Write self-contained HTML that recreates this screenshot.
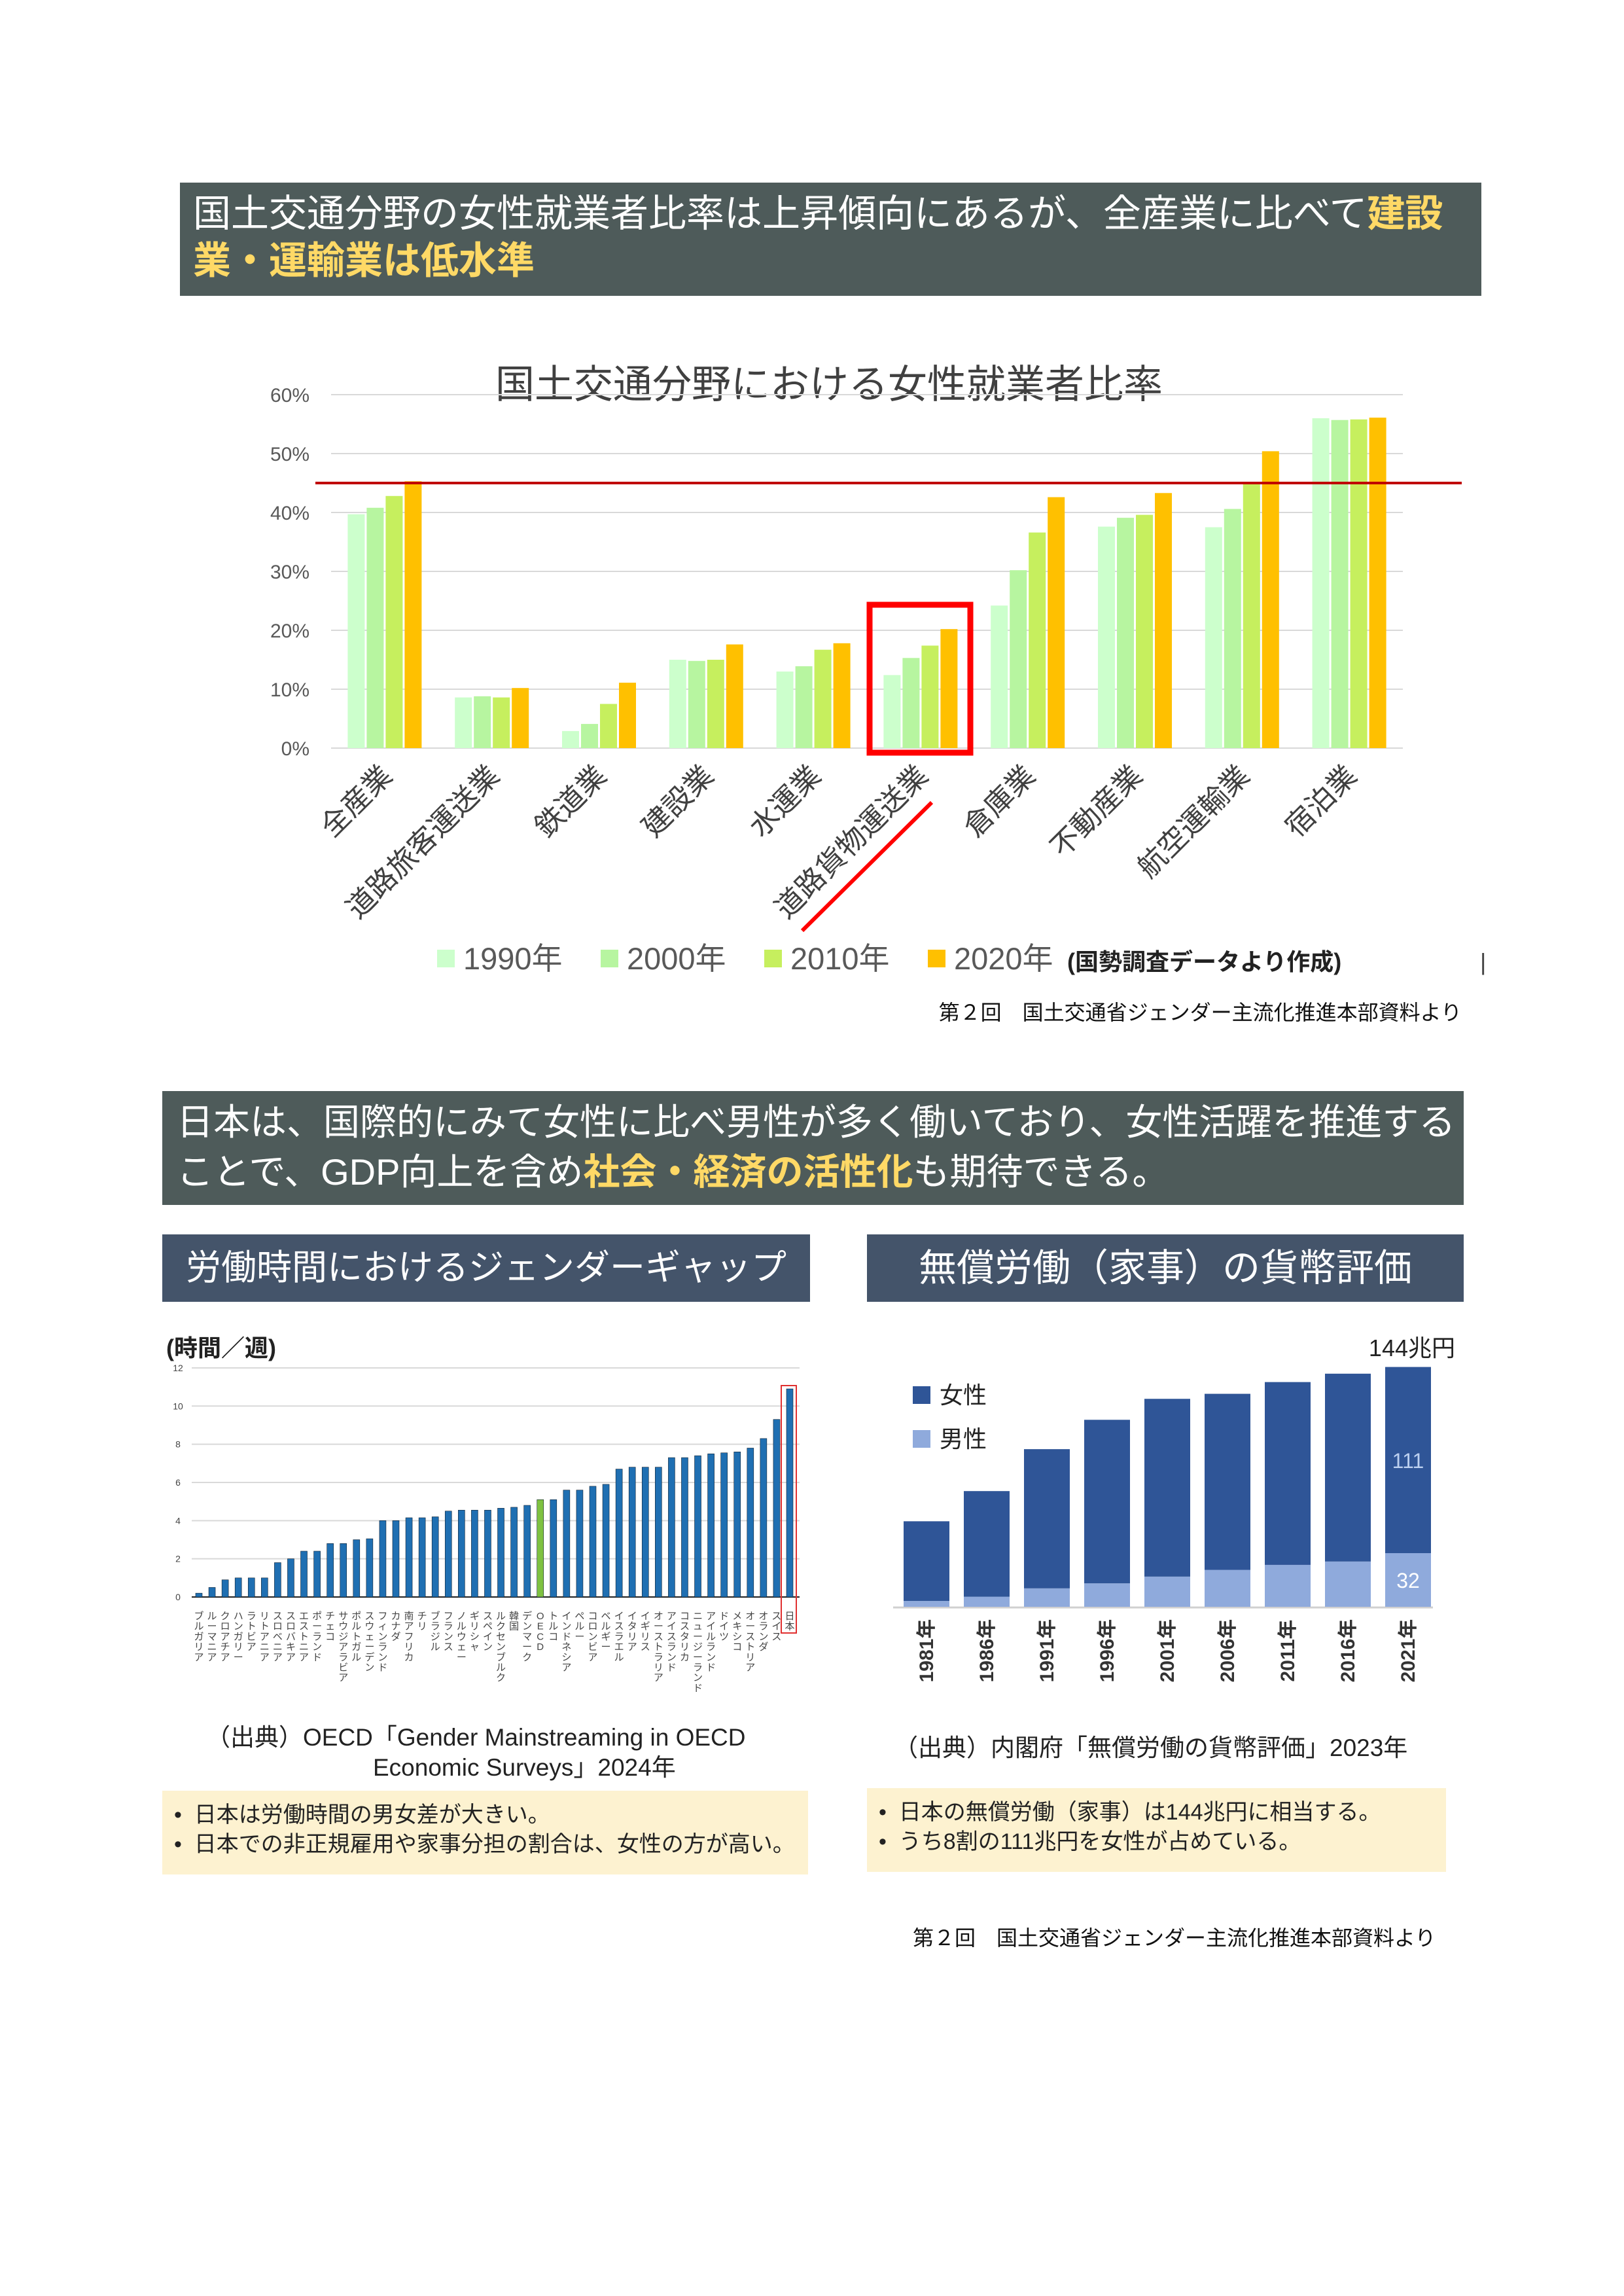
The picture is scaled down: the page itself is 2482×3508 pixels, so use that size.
<!DOCTYPE html>
<html><head><meta charset="utf-8">
<style>
body{margin:0;width:2482px;height:3508px;background:#fff;position:relative;overflow:hidden;font-family:"Liberation Sans","Noto Sans CJK JP",sans-serif;}
.abs{position:absolute;}
.hdr{background:#4e5b5a;color:#fff;box-sizing:border-box;}
.hl{color:#ffd966;font-weight:bold;}
.sub{background:#44546a;color:#fff;text-align:center;box-sizing:border-box;}
.note{background:#fdf2d0;color:#222;box-sizing:border-box;font-size:34px;line-height:45px;white-space:nowrap;}
svg text{font-family:"Liberation Sans","Noto Sans CJK JP",sans-serif;}
</style></head><body>

<div class="abs hdr" style="left:275px;top:279px;width:1989px;height:173px;padding:12px 0 0 20px;font-size:58px;line-height:72px;letter-spacing:0px;white-space:nowrap;">国土交通分野の女性就業者比率は上昇傾向にあるが、全産業に比べて<span class="hl">建設</span><br><span class="hl">業・運輸業は低水準</span></div>

<svg class="abs" style="left:0;top:0" width="2482" height="1600">
<text x="1267" y="608" text-anchor="middle" font-size="60" fill="#404040">国土交通分野における女性就業者比率</text>
<g id="c1"></g>
<line x1="482" y1="738" x2="2234" y2="738" stroke="#c00000" stroke-width="4"/>
<rect x="1329" y="924" width="154" height="226" fill="none" stroke="#ff0000" stroke-width="9"/>
<line x1="1226" y1="1422" x2="1424" y2="1226" stroke="#ff0000" stroke-width="6"/>
<g id="leg1"></g>
<text x="1631" y="1482" font-size="36" font-weight="bold" fill="#222">(国勢調査データより作成)</text>
<text x="2262" y="1482" font-size="36" fill="#444">|</text>
<text x="2234" y="1558" text-anchor="end" font-size="32" fill="#111">第２回　国土交通省ジェンダー主流化推進本部資料より</text>
</svg>

<div class="abs hdr" style="left:248px;top:1667px;width:1989px;height:174px;padding:10px 0 0 22px;font-size:56px;line-height:76px;white-space:nowrap;">日本は、国際的にみて女性に比べ男性が多く働いており、女性活躍を推進する<br>ことで、GDP向上を含め<span class="hl">社会・経済の活性化</span>も期待できる。</div>

<div class="abs sub" style="left:248px;top:1886px;width:990px;height:103px;font-size:54px;line-height:103px;">労働時間におけるジェンダーギャップ</div>
<div class="abs sub" style="left:1325px;top:1886px;width:912px;height:103px;font-size:58px;line-height:103px;">無償労働（家事）の貨幣評価</div>

<svg class="abs" style="left:0;top:2000px" width="2482" height="750">
<g transform="translate(0,-2000)">
<text x="254" y="2072" font-size="36" font-weight="bold" fill="#222">(時間／週)</text>
<g id="c2"></g>
<text x="2224" y="2072" text-anchor="end" font-size="36" fill="#222">144兆円</text>
<rect x="1395" y="2118" width="27" height="27" fill="#2f5597"/>
<text x="1436" y="2144" font-size="36" fill="#222">女性</text>
<rect x="1395" y="2185" width="27" height="27" fill="#8faadc"/>
<text x="1436" y="2211" font-size="36" fill="#222">男性</text>
<g id="c3"></g>
</g>
</svg>

<div class="abs" style="left:315px;top:2632px;font-size:37px;line-height:46px;color:#222;white-space:nowrap;">（出典）OECD「Gender Mainstreaming in OECD<br><span style="padding-left:255px">Economic Surveys」2024年</span></div>
<div class="abs" style="left:1366px;top:2648px;font-size:37px;line-height:46px;color:#222;white-space:nowrap;">（出典）内閣府「無償労働の貨幣評価」2023年</div>

<div class="abs note" style="left:248px;top:2736px;width:987px;height:128px;padding:15px 0 0 18px;">•&nbsp; 日本は労働時間の男女差が大きい。<br>•&nbsp; 日本での非正規雇用や家事分担の割合は、女性の方が高い。</div>
<div class="abs note" style="left:1325px;top:2732px;width:885px;height:128px;padding:15px 0 0 18px;">•&nbsp; 日本の無償労働（家事）は144兆円に相当する。<br>•&nbsp; うち8割の111兆円を女性が占めている。</div>

<div class="abs" style="left:1395px;top:2936px;font-size:32px;color:#111;white-space:nowrap;">第２回　国土交通省ジェンダー主流化推進本部資料より</div>

<script>
const NS="http://www.w3.org/2000/svg";
function mk(p,tag,a,txt){const e=document.createElementNS(NS,tag);for(const k in a)e.setAttribute(k,a[k]);if(txt!=null)e.textContent=txt;p.appendChild(e);return e;}

// ---- Chart 1 data ----
const industries=["全産業","道路旅客運送業","鉄道業","建設業","水運業","道路貨物運送業","倉庫業","不動産業","航空運輸業","宿泊業"];
const years1=["1990年","2000年","2010年","2020年"];
const v1990=[39.7,8.6,2.9,15.0,13.0,12.4,24.2,37.6,37.5,56.0];
const v2000=[40.8,8.8,4.1,14.8,13.9,15.3,30.2,39.1,40.6,55.7];
const v2010=[42.8,8.6,7.5,15.0,16.7,17.4,36.6,39.6,44.8,55.8];
const v2020=[45.3,10.2,11.1,17.6,17.8,20.2,42.6,43.3,50.4,56.1];
const pctTicks=[0,10,20,30,40,50,60];

// ---- Chart 2 data ----
const countries=["ブルガリア","ルーマニア","クロアチア","ハンガリー","ラトビア","リトアニア","スロベニア","スロバキア","エストニア","ポーランド","チェコ","サウジアラビア","ポルトガル","スウェーデン","フィンランド","カナダ","南アフリカ","チリ","ブラジル","フランス","ノルウェー","ギリシャ","スペイン","ルクセンブルク","韓国","デンマーク","OECD","トルコ","インドネシア","ペルー","コロンビア","ベルギー","イスラエル","イタリア","イギリス","オーストラリア","アイスランド","コスタリカ","ニュージーランド","アイルランド","ドイツ","メキシコ","オーストリア","オランダ","スイス","日本"];
const gapHours=[0.2,0.5,0.9,1.0,1.0,1.0,1.8,2.0,2.4,2.4,2.8,2.8,3.0,3.05,4.0,4.0,4.15,4.15,4.2,4.5,4.55,4.55,4.55,4.65,4.7,4.8,5.1,5.1,5.6,5.6,5.8,5.9,6.7,6.8,6.8,6.8,7.3,7.3,7.4,7.5,7.55,7.6,7.8,8.3,9.3,10.9];
const hourTicks=[0,2,4,6,8,10,12];

// ---- Chart 3 data ----
const years3=["1981年","1986年","1991年","1996年","2001年","2006年","2011年","2016年","2021年"];
const female=[47.5,63,83,97.5,106,105,109,112,111];
const male=[3.5,6,11,14,18,22,25,27,32];

// ---- Chart 1 drawing ----
(function(){
 const g=document.getElementById('c1');
 const x0=506,x1=2144,yb=1143,pxPer=9.0;
 const y=v=>yb-v*pxPer;
 const gw=(x1-x0)/industries.length;
 pctTicks.forEach(t=>{
  const l=mk(g,'line',{x1:x0,x2:x1,y1:y(t),y2:y(t),stroke:'#d9d9d9','stroke-width':2});
  
  
  const tx=mk(g,'text',{x:473,y:y(t)+11,'text-anchor':'end','font-size':30,fill:'#595959'},t+'%');
  
  
 });
 const series=[v1990,v2000,v2010,v2020];
 const cols=['#ccffcc','#b7f5a0','#c6ef5e','#ffc000'];
 const bw=26,gap=3;
 industries.forEach((name,i)=>{
  const cx=x0+gw*(i+0.5);
  const start=cx-(4*bw+3*gap)/2;
  series.forEach((s,j)=>{
   const r=mk(g,'rect',{x:start+j*(bw+gap),y:y(s[i]),width:bw,height:s[i]*pxPer,fill:cols[j]});
   
   
  });
  const t=mk(g,'text',{x:0,y:0,'text-anchor':'end','font-size':44,fill:'#404040',transform:`translate(${cx+14},${1188}) rotate(-45)`},name);
  
  
 });
 const lg=document.getElementById('leg1');
 const lx=[668,918,1168,1418];
 years1.forEach((yr,j)=>{
  const r=mk(lg,'rect',{x:lx[j],y:1451,width:27,height:27,fill:cols[j]});
  
  
  const t=mk(lg,'text',{x:lx[j]+40,y:1481,'font-size':47,fill:'#595959'},yr);
  
  
 });
})();

// ---- Chart 2 drawing ----
(function(){
 const g=document.getElementById('c2');
 const gx0=293,gx1=1222,yb=2440,pxPer=29.17;
 const y=v=>yb-v*pxPer;
 hourTicks.forEach(t=>{
  if(t>0){const l=mk(g,'line',{x1:gx0,x2:gx1,y1:y(t),y2:y(t),stroke:'#d9d9d9','stroke-width':2});
  
  }
  const tx=mk(g,'text',{x:272,y:y(t)+5,'text-anchor':'middle','font-size':14,fill:'#444'},t);
  
  
 });
 const ax=mk(g,'line',{x1:gx0,x2:gx1,y1:yb,y2:yb,stroke:'#222','stroke-width':2});
 
 
 const pitch=(1207-304)/(countries.length-1);
 countries.forEach((c,i)=>{
  const cx=304+i*pitch;
  const r=mk(g,'rect',{x:cx-5,y:y(gapHours[i]),width:10,height:gapHours[i]*pxPer,fill:c==='OECD'?'#7fc241':'#1f6fb2',stroke:'#123',"stroke-width":0.6});
  
  
  [...c].forEach((ch,k)=>{
   const t=mk(g,'text',{x:cx,y:2474+k*15.7,'text-anchor':'middle','font-size':15,fill:'#444'},ch);
   
   
  });
 });
 const jb=mk(g,'rect',{x:1194,y:2117,width:23,height:378,fill:'none',stroke:'#e03030','stroke-width':2});
 
 
})();

// ---- Chart 3 drawing ----
(function(){
 const g=document.getElementById('c3');
 const yb=2455,pxPer=2.5625,x0=1381,pitch=92,bw=70;
 const y=v=>yb-v*pxPer;
 const bl=mk(g,'line',{x1:1365,x2:2190,y1:yb+1,y2:yb+1,stroke:'#d0d0d0','stroke-width':3});
 
 
 years3.forEach((yr,i)=>{
  const x=x0+i*pitch;
  const rm=mk(g,'rect',{x:x,y:y(male[i]),width:bw,height:male[i]*pxPer,fill:'#8faadc'});
  
  
  const rf=mk(g,'rect',{x:x,y:y(male[i]+female[i]),width:bw,height:female[i]*pxPer,fill:'#2f5597'});
  
  
  const t=mk(g,'text',{x:0,y:0,'text-anchor':'middle','font-size':30,'font-weight':'bold',fill:'#333',transform:`translate(${x+bw/2+10},${2522}) rotate(-90)`},yr);
  
  
  if(i===years3.length-1){
   const a=mk(g,'text',{x:x+bw/2,y:y(male[i]+female[i]/2)+12,'text-anchor':'middle','font-size':32,fill:'#bcd0f0'},female[i]);
   
   
   const b=mk(g,'text',{x:x+bw/2,y:y(male[i]/2)+12,'text-anchor':'middle','font-size':32,fill:'#fff'},male[i]);
   
   
  }
 });
})();
</script>
</body></html>
